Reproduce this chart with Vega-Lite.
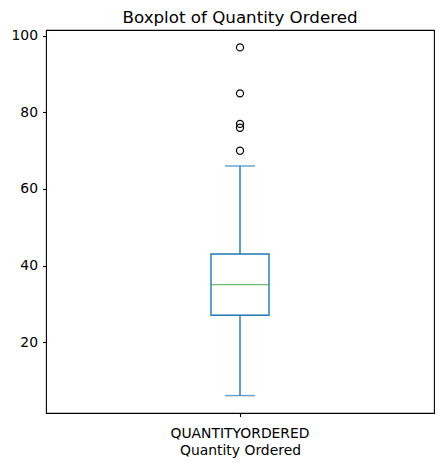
{
  "$schema": "https://vega.github.io/schema/vega-lite/v6.json",
  "autosize": {"type": "none"},
  "padding": {"left": 46, "top": 30, "right": 9, "bottom": 55},
  "width": 388,
  "height": 383,
  "background": "white",
  "title": {
    "text": "Boxplot of Quantity Ordered",
    "font": "DejaVu Sans",
    "fontSize": 16.7,
    "fontWeight": "normal",
    "color": "black",
    "anchor": "middle",
    "baseline": "alphabetic",
    "offset": 8,
    "dy": 19
  },
  "datasets": {
    "stats": [
      {"column": "QUANTITYORDERED", "low": 6, "q1": 27, "median": 35, "q3": 43, "high": 66}
    ],
    "outliers": [
      {"column": "QUANTITYORDERED", "value": 70},
      {"column": "QUANTITYORDERED", "value": 76},
      {"column": "QUANTITYORDERED", "value": 77},
      {"column": "QUANTITYORDERED", "value": 85},
      {"column": "QUANTITYORDERED", "value": 97}
    ]
  },
  "encoding": {
    "x": {
      "field": "column",
      "type": "nominal",
      "title": "Quantity Ordered",
      "axis": {"labelAngle": 0, "labelPadding": 10, "titlePadding": 3}
    }
  },
  "layer": [
    {
      "data": {"name": "stats"},
      "mark": {"type": "rule", "color": "#1f77b4", "strokeWidth": 1.4},
      "encoding": {
        "y": {
          "field": "low",
          "type": "quantitative",
          "title": null,
          "scale": {"domain": [1.45, 101.55], "nice": false, "zero": false},
          "axis": {"values": [20, 40, 60, 80, 100], "labelPadding": 5}
        },
        "y2": {"field": "high"}
      }
    },
    {
      "data": {"name": "stats"},
      "mark": {"type": "bar", "size": 58, "fill": "white", "stroke": "#1f77b4", "strokeWidth": 1.4},
      "encoding": {
        "y": {"field": "q1", "type": "quantitative"},
        "y2": {"field": "q3"}
      }
    },
    {
      "data": {"name": "stats"},
      "mark": {"type": "tick", "size": 57, "thickness": 1.4, "color": "#2ca02c"},
      "encoding": {"y": {"field": "median", "type": "quantitative"}}
    },
    {
      "data": {"name": "stats"},
      "mark": {"type": "tick", "size": 30, "thickness": 1.4, "color": "#1f77b4"},
      "encoding": {"y": {"field": "low", "type": "quantitative"}}
    },
    {
      "data": {"name": "stats"},
      "mark": {"type": "tick", "size": 30, "thickness": 1.4, "color": "#1f77b4"},
      "encoding": {"y": {"field": "high", "type": "quantitative"}}
    },
    {
      "data": {"name": "outliers"},
      "mark": {"type": "point", "shape": "circle", "filled": false, "size": 50, "stroke": "black", "strokeWidth": 1.2, "opacity": 1},
      "encoding": {"y": {"field": "value", "type": "quantitative"}}
    }
  ],
  "config": {
    "view": {"stroke": "black", "strokeWidth": 1.1},
    "axis": {
      "grid": false,
      "domain": false,
      "labelFont": "DejaVu Sans",
      "labelFontSize": 13.9,
      "labelColor": "black",
      "tickColor": "black",
      "tickSize": 3.5,
      "tickWidth": 1.1,
      "titleFont": "DejaVu Sans",
      "titleFontSize": 13.9,
      "titleFontWeight": "normal",
      "titleColor": "black"
    }
  }
}
